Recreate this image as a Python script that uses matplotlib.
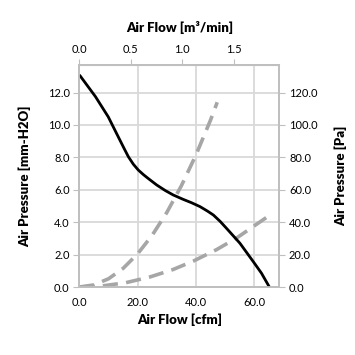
import matplotlib.pyplot as plt

# fan curve (black) and two system impedance curves (gray dashed)
fan_cfm = [0, 5.5, 9.9, 13.3, 15.2, 16.8, 18.5, 20.2, 22, 23.6, 26.5, 29.5, 32.2, 35.6, 38.5, 41.4, 44, 46, 48.3, 50.5, 55.1, 59.7, 62.5, 65.2]
fan_mm = [13.09, 11.75, 10.5, 9.28, 8.6, 8.04, 7.58, 7.22, 6.93, 6.7, 6.3, 5.95, 5.68, 5.41, 5.2, 4.96, 4.68, 4.44, 4.05, 3.62, 2.7, 1.56, 0.85, 0.0]

sys1_cfm = [0, 5, 10, 15, 20, 25, 30, 35, 40, 45, 47.3]
sys1_mm = [0.0, 0.13, 0.51, 1.15, 2.05, 3.2, 4.6, 6.25, 8.15, 10.3, 11.4]

sys2_cfm = [0, 8, 16, 24.2, 32, 39.1, 47, 54, 64.1]
sys2_mm = [0.0, 0.07, 0.27, 0.62, 1.07, 1.6, 2.3, 3.03, 4.28]

x_ticks = [0, 20, 40, 60]
y_ticks = [0, 2, 4, 6, 8, 10, 12]
top_ticks = [0.0, 0.5, 1.0, 1.5]
CFM_PER_M3MIN = 35.3147

plt.rcParams['font.family'] = ['Lato', 'DejaVu Sans']
grid_c = '#d9d9d9'
spine_c = '#bfbfbf'

fig = plt.figure(figsize=(3.55, 3.55), dpi=100)
ax = fig.add_axes([0.2237, 0.1915, 0.5630, 0.6254])

ax.plot(sys1_cfm, sys1_mm, color='#a6a6a6', lw=2.6, dashes=(4.2, 2.3), zorder=3)
ax.plot(sys2_cfm, sys2_mm, color='#a6a6a6', lw=2.6, dashes=(4.2, 2.3), zorder=3)
ax.plot(fan_cfm, fan_mm, color='black', lw=2.0, zorder=4, solid_capstyle='butt')

ax.set_xlim(0, 68.6)
ax.set_ylim(0, 13.7)
ax.set_xticks(x_ticks)
ax.set_xticklabels([f'{v:.1f}' for v in x_ticks])
ax.set_yticks(y_ticks)
ax.set_yticklabels([f'{v:.1f}' for v in y_ticks])
ax.grid(True, color=grid_c, lw=1.3)
ax.set_axisbelow(True)
for s in ax.spines.values():
    s.set_color(spine_c)
    s.set_linewidth(1.3)
ax.tick_params(axis='x', length=0, labelsize=8, pad=7)
ax.tick_params(axis='y', length=4, color=spine_c, labelsize=8, pad=3)
ax.set_xlabel('Air Flow [cfm]', fontsize=9.5, fontweight='heavy', labelpad=4)
ax.set_ylabel('Air Pressure [mm-H2O]', fontsize=9.5, fontweight='heavy', labelpad=12)

ax2 = ax.twinx()
ax2.set_ylim(0, 137)
ax2.set_yticks([v * 10 for v in y_ticks])
ax2.set_yticklabels([f'{v * 10:.1f}' for v in y_ticks])
ax2.tick_params(axis='y', length=4, color=spine_c, labelsize=8, pad=3)
for s in ax2.spines.values():
    s.set_color(spine_c)
    s.set_linewidth(1.3)
ax2.set_ylabel('Air Pressure [Pa]', fontsize=9.5, fontweight='heavy',
               rotation=90, labelpad=12)

top = ax.secondary_xaxis('top', functions=(lambda c: c / CFM_PER_M3MIN,
                                           lambda m: m * CFM_PER_M3MIN))
top.set_xticks(top_ticks)
top.set_xticklabels([f'{v:.1f}' for v in top_ticks])
top.tick_params(axis='x', length=4, color=spine_c, labelsize=8, pad=3)
top.spines['top'].set_color(spine_c)
top.set_xlabel('Air Flow [m³/min]', fontsize=9.5, fontweight='heavy', labelpad=9)

fig.savefig('out.png', dpi=100)
